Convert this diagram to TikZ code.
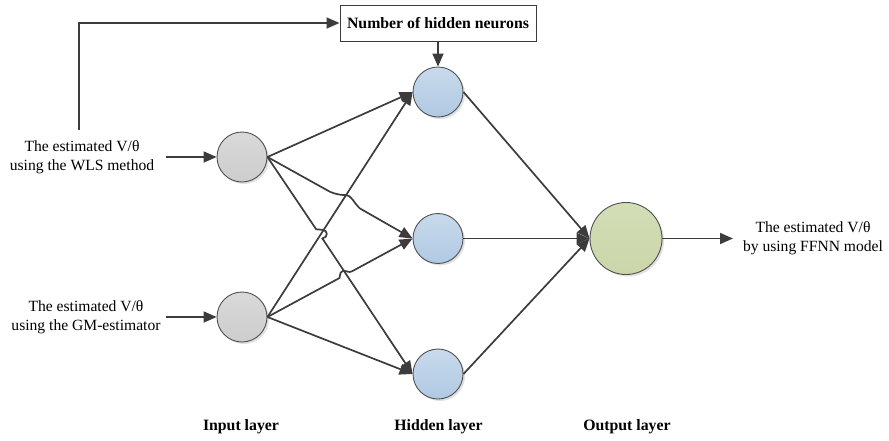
\documentclass[tikz,border=0pt]{standalone}
\usepackage{fontspec}
\setmainfont{Liberation Serif}
\usetikzlibrary{arrows.meta,shadows}
\definecolor{ln}{HTML}{3C3C3C}
\definecolor{bd}{HTML}{505050}
\definecolor{grayT}{HTML}{D9D9D9}
\definecolor{grayB}{HTML}{CDCDCD}
\definecolor{blueT}{HTML}{C8DAEC}
\definecolor{blueB}{HTML}{B0C9E3}
\definecolor{greenT}{HTML}{D3DDB7}
\definecolor{greenB}{HTML}{CBD6A9}
\begin{document}
\begin{tikzpicture}[x=1pt,y=-1pt,
  conn/.style={draw=ln, line width=1.7pt},
  arr/.style={conn, -{Triangle[length=13pt,width=11pt]}},
  neuron/.style={circle, draw=bd, line width=0.9pt, inner sep=0pt, minimum size=50pt,
    drop shadow={shadow xshift=2pt, shadow yshift=-2pt, fill=black!12, opacity=1}},
  innode/.style={neuron, top color=grayT, bottom color=grayB},
  hidnode/.style={neuron, top color=blueT, bottom color=blueB},
  outnode/.style={neuron, minimum size=72pt, top color=greenT, bottom color=greenB},
  txt/.style={align=center, inner sep=0pt, font=\fontsize{15.6}{19}\selectfont},
  btxt/.style={align=center, inner sep=0pt, font=\fontsize{15.8}{19}\selectfont\bfseries},
  boxnode/.style={draw=ln, line width=1pt, fill=white, minimum width=196pt, minimum height=36pt, inner sep=0pt, font=\fontsize{15.8}{19}\selectfont\bfseries}
]
\useasboundingbox (0,0) rectangle (889,440);

% nodes
\node[innode] (i1) at (242,157) {};
\node[innode] (i2) at (242,317) {};
\node[hidnode] (h1) at (438,92) {};
\node[hidnode] (h2) at (438,238.5) {};
\node[hidnode] (h3) at (438,374) {};
\node[outnode] (o) at (626,238.5) {};
\node[boxnode] (box) at (438,23) {Number of hidden neurons};

% texts
\node[txt] (wls) at (82,157) {The estimated V/θ\\using the WLS method};
\node[txt] (gm) at (86,317) {The estimated V/θ\\using the GM-estimator};
\node[txt] (res) at (813,238) {The estimated V/θ\\by using FFNN model};
\node[btxt] (lin) at (241,427) {Input layer};
\node[btxt] (lhid) at (438.5,427) {Hidden layer};
\node[btxt] (lout) at (627,427) {Output layer};

% helper coordinates
\coordinate (wlsA) at (166,157);
\coordinate (gmA) at (166,317);
\coordinate (wlsUp) at (79,130);
\coordinate (resA) at (733,238.5);

% input arrows
\draw[arr] (wlsA) -- (i1.west);
\draw[arr] (gmA) -- (i2.west);
\draw[arr] (wlsUp) |- (box.west);
\draw[arr] (box.south) -- (h1.north);

% input to hidden
\draw[arr] (i1.east) -- (h1.west);
\draw[arr] (i2.east) -- (h1.west);
\draw[arr] (i2.east) -- (h3.west);
% with line hops
\draw[arr] (i1.east) -- (330,191.8) .. controls (338,195) and (342,195) .. (346.2,195)
   .. controls (351,195) and (354,203) .. (360,208.5) -- (h2.west);
\draw[arr] (i1.east) -- (316.2,229.3) -- (322.5,229.8) .. controls (328,230) and (328.5,237.5) .. (322.4,238.5) -- (h3.west);
\draw[arr] (i2.east) -- (339.5,278.0) .. controls (340.3,273) and (340.8,270.6) .. (343.5,270.6)
   .. controls (347,270.6) and (348.5,273.2) .. (352,271.3) -- (h2.west);

% hidden to output
\draw[arr] (h1.east) -- (o.west);
\draw[arr] (h2.east) -- (o.west);
\draw[arr] (h3.east) -- (o.west);
\draw[arr] (o.east) -- (resA);
\end{tikzpicture}
\end{document}
